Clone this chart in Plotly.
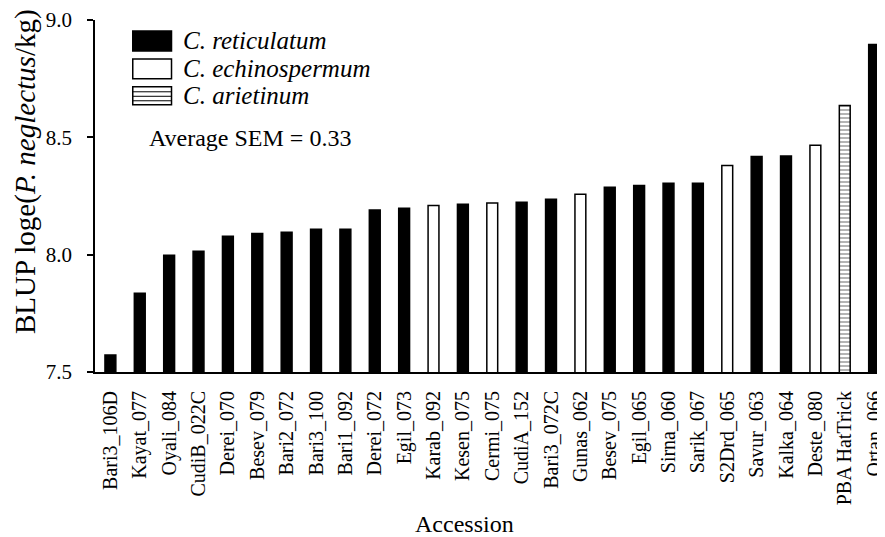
import plotly.graph_objects as go

accessions = ["Bari3_106D", "Kayat_077", "Oyali_084", "CudiB_022C", "Derei_070", "Besev_079",
              "Bari2_072", "Bari3_100", "Bari1_092", "Derei_072", "Egil_073", "Karab_092",
              "Kesen_075", "Cermi_075", "CudiA_152", "Bari3_072C", "Gunas_062", "Besev_075",
              "Egil_065", "Sirna_060", "Sarik_067", "S2Drd_065", "Savur_063", "Kalka_064",
              "Deste_080", "PBA HatTrick", "Ortan_066"]
blup = [7.572, 7.836, 7.998, 8.015, 8.079, 8.090, 8.095, 8.108, 8.108, 8.190, 8.198, 8.210,
        8.215, 8.220, 8.223, 8.236, 8.257, 8.287, 8.295, 8.304, 8.304, 8.380, 8.418, 8.420,
        8.466, 8.636, 8.896]
species = ["ret", "ret", "ret", "ret", "ret", "ret", "ret", "ret", "ret", "ret", "ret", "ech",
           "ret", "ech", "ret", "ret", "ech", "ret", "ret", "ret", "ret", "ech", "ret", "ret",
           "ech", "ari", "ret"]
species_labels = {"ret": "C. reticulatum", "ech": "C. echinospermum", "ari": "C. arietinum"}
y_ticks = [7.5, 8.0, 8.5, 9.0]
sem_text = "Average SEM = 0.33"

FONT = "Liberation Serif"
fill = {"ret": "black", "ech": "white", "ari": "white"}
pat = {"ret": "", "ech": "", "ari": "-"}

fig = go.Figure()
fig.add_trace(go.Bar(
    x=accessions, y=blup,
    width=0.37,
    marker=dict(
        color=[fill[s] for s in species],
        line=dict(color="black", width=1.5),
        pattern=dict(shape=[pat[s] for s in species], fgcolor="black", bgcolor="white",
                     size=4, solidity=0.4, fillmode="overlay"),
    ),
    showlegend=False,
))

# page pixel -> paper coords (plot area on page: x 95..885, y 19..372)
def px(x):
    return (x - 95) / 790

def py(y):
    return (372 - y) / 353

shapes = []
boxes = [("ret", 30, 50), ("ech", 58, 78), ("ari", 86, 104)]
for s, top, bot in boxes:
    shapes.append(dict(type="rect", xref="paper", yref="paper",
                       x0=px(133), x1=px(172), y0=py(bot), y1=py(top),
                       fillcolor=fill[s], line=dict(color="black", width=1.5)))
    if s == "ari":
        for ly in [91, 95.5, 100]:
            shapes.append(dict(type="line", xref="paper", yref="paper",
                               x0=px(133), x1=px(172), y0=py(ly), y1=py(ly),
                               line=dict(color="black", width=1)))
    fig.add_annotation(xref="paper", yref="paper", x=px(182), y=py((top + bot) / 2),
                       text="<i>" + species_labels[s] + "</i>", showarrow=False,
                       xanchor="left", yanchor="middle",
                       font=dict(family=FONT, size=25, color="black"))

fig.add_annotation(xref="paper", yref="paper", x=px(147), y=py(137), text=sem_text,
                   showarrow=False, xanchor="left", yanchor="middle",
                   font=dict(family=FONT, size=24, color="black"))
fig.add_annotation(xref="paper", yref="paper", x=px(25), y=py(171),
                   text="BLUP loge(<i>P. neglectus</i>/kg)", textangle=-90, showarrow=False,
                   xanchor="center", yanchor="middle",
                   font=dict(family=FONT, size=29, color="black"))
fig.add_annotation(xref="paper", yref="paper", x=px(467), y=py(524), text="Accession",
                   showarrow=False, xanchor="center", yanchor="middle",
                   font=dict(family=FONT, size=24, color="black"))

# page body has an 8px margin; figure is sized/offset so the plot lands where the reference's does
fig.update_layout(
    width=877, height=529,
    margin=dict(l=87, r=0, t=11, b=165),
    paper_bgcolor="white", plot_bgcolor="white",
    shapes=shapes,
    xaxis=dict(type="category", range=[-0.524, 26.2], showline=True, linecolor="black",
               linewidth=2, ticks="", tickangle=-90, showgrid=False,
               ticklabelstandoff=9,
               tickfont=dict(family=FONT, size=20, color="black")),
    yaxis=dict(range=[7.5, 9.0], tickvals=y_ticks,
               ticktext=[f"{v:.1f}" for v in y_ticks],
               showline=True, linecolor="black", linewidth=1.5, ticks="outside",
               ticklen=6, tickwidth=1.5, tickcolor="black", showgrid=False, zeroline=False,
               ticklabelstandoff=11, ticklabeloverflow="allow",
               tickfont=dict(family=FONT, size=21, color="black")),
)

fig.write_html("out.html")
